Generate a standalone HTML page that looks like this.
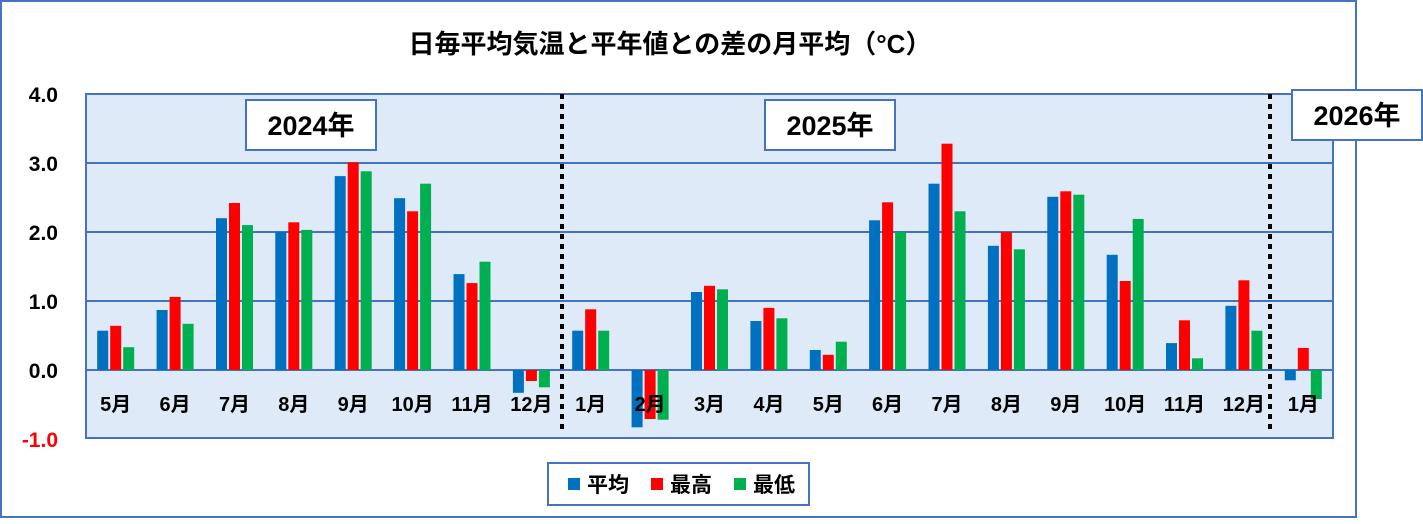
<!DOCTYPE html>
<html><head><meta charset="utf-8"><style>
html,body{margin:0;padding:0;background:#fff;}
svg text{font-family:"Liberation Sans","Noto Sans CJK JP",sans-serif;font-weight:bold;}
</style></head><body>
<svg id="c" width="1423" height="519" xmlns="http://www.w3.org/2000/svg">
<rect x="1" y="1" width="1355" height="516" fill="#fff" stroke="#4472C4" stroke-width="2"/>
<text x="670" y="53" font-size="26" text-anchor="middle" fill="#000">日毎平均気温と平年値との差の月平均（°C）</text>
<rect x="86" y="94" width="1247" height="344" fill="#DEEAF7" stroke="#4472C4" stroke-width="2"/>
<g stroke="#4472C4" stroke-width="2">
<line x1="86" y1="163" x2="1333" y2="163"/>
<line x1="86" y1="232" x2="1333" y2="232"/>
<line x1="86" y1="301" x2="1333" y2="301"/>
<line x1="86" y1="370" x2="1333" y2="370"/>
</g>
<g font-size="21" fill="#000" text-anchor="end">
<text x="58" y="102">4.0</text><text x="58" y="171">3.0</text><text x="58" y="240">2.0</text>
<text x="58" y="309">1.0</text><text x="58" y="378">0.0</text><text x="58" y="447" fill="#f00">-1.0</text>
</g>
<g id="bars"></g>
<g stroke="#000" stroke-width="4" stroke-dasharray="5,5">
<line x1="562" y1="94" x2="562" y2="432"/>
<line x1="1270" y1="94" x2="1270" y2="432"/>
</g>
<g font-size="27" fill="#000" text-anchor="middle">
<rect x="246" y="100" width="130" height="50" fill="#fff" stroke="#4472C4" stroke-width="2"/>
<text x="311" y="135">2024年</text>
<rect x="765" y="100" width="130" height="50" fill="#fff" stroke="#4472C4" stroke-width="2"/>
<text x="830" y="135">2025年</text>
<rect x="1292" y="90" width="130" height="50" fill="#fff" stroke="#4472C4" stroke-width="2"/>
<text x="1357" y="125">2026年</text>
</g>
<rect x="548" y="463" width="261" height="42" fill="#fff" stroke="#4472C4" stroke-width="2"/>
<rect x="568" y="478" width="12" height="12" fill="#0070C0"/>
<text x="587" y="492" font-size="21">平均</text>
<rect x="651" y="478" width="12" height="12" fill="#FF0000"/>
<text x="670" y="492" font-size="21">最高</text>
<rect x="734" y="478" width="12" height="12" fill="#00B050"/>
<text x="753" y="492" font-size="21">最低</text>
</svg>
<script>
var d=[[0.57,0.64,0.33],[0.87,1.06,0.67],[2.2,2.42,2.1],[2.0,2.14,2.03],[2.81,3.01,2.88],[2.49,2.3,2.7],[1.39,1.26,1.57],[-0.33,-0.16,-0.25],
[0.57,0.88,0.57],[-0.83,-0.71,-0.72],[1.13,1.22,1.17],[0.71,0.9,0.75],[0.29,0.22,0.41],[2.17,2.43,2.0],[2.7,3.28,2.3],[1.8,2.0,1.75],[2.51,2.59,2.54],[1.67,1.29,2.19],[0.39,0.72,0.17],[0.93,1.3,0.57],[-0.15,0.32,-0.42]];
var lab=["5月","6月","7月","8月","9月","10月","11月","12月","1月","2月","3月","4月","5月","6月","7月","8月","9月","10月","11月","12月","1月"];
var col=["#0070C0","#FF0000","#00B050"];
var g=document.getElementById("bars"),s="";
var w=1247/21;
for(var i=0;i<21;i++){var cx=86+w*(i+0.5);
for(var k=0;k<3;k++){var v=d[i][k],x=cx-18.5+k*13,h=Math.abs(v)*69,y=v>=0?370-h:370;
s+='<rect x="'+x.toFixed(1)+'" y="'+y.toFixed(1)+'" width="11" height="'+h.toFixed(1)+'" fill="'+col[k]+'"/>';}
s+='<text x="'+cx.toFixed(1)+'" y="411" font-size="20" text-anchor="middle" fill="#000">'+lab[i]+'</text>';}
g.innerHTML=s;
</script>
</body></html>
